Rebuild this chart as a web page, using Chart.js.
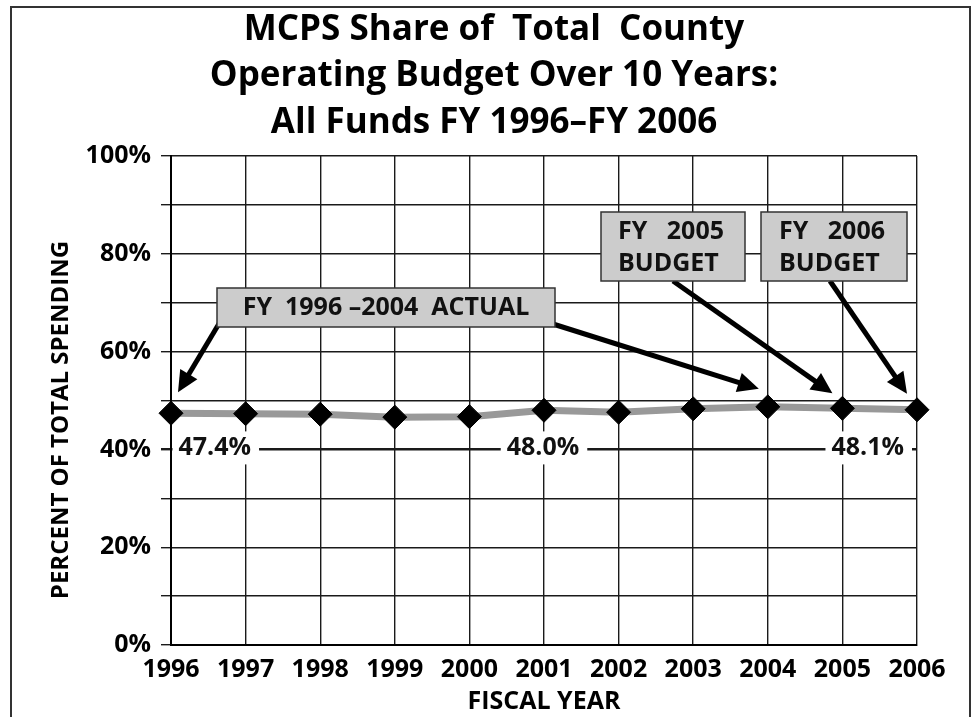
<!DOCTYPE html>
<html><head><meta charset="utf-8">
<script src="https://cdn.jsdelivr.net/npm/chart.js@4/dist/chart.umd.min.js"></script>
<style>html,body{margin:0;padding:0;background:#fff;} canvas{display:block;}</style>
</head><body>
<canvas id="c" width="976" height="717"></canvas>
<script>
// ---- data ----
const years = ['1996','1997','1998','1999','2000','2001','2002','2003','2004','2005','2006'];
const shares = [47.4, 47.3, 47.2, 46.6, 46.7, 48.0, 47.6, 48.3, 48.7, 48.4, 48.1];
const labeledTicks = [0, 20, 40, 60, 80, 100];
const titleLines = ['MCPS Share of  Total  County', 'Operating Budget Over 10 Years:', 'All Funds FY 1996\u2013FY 2006'];
const xAxisTitle = 'FISCAL YEAR';
const yAxisTitle = 'PERCENT OF TOTAL SPENDING';
const actualCallout = ['FY  1996 \u20132004  ACTUAL'];
const budget2005Callout = ['FY   2005', 'BUDGET'];
const budget2006Callout = ['FY   2006', 'BUDGET'];
const valueLabelIdx = [0, 5, 10];
const valueLabelLine = 40;
const actualArrowIdx = [0, 8];
const budget2005Idx = 9;
const budget2006Idx = 10;

const FONT = "'Open Sans', 'Noto Sans', sans-serif";

function arrow(ctx, x1, y1, x2, y2) {
  const ang = Math.atan2(y2 - y1, x2 - x1);
  const head = 21, hw = 10;
  const bx = x2 - Math.cos(ang) * head, by = y2 - Math.sin(ang) * head;
  ctx.save();
  ctx.strokeStyle = '#000'; ctx.fillStyle = '#000';
  ctx.lineWidth = 5; ctx.lineCap = 'butt';
  ctx.beginPath(); ctx.moveTo(x1, y1); ctx.lineTo(bx + Math.cos(ang) * 2, by + Math.sin(ang) * 2); ctx.stroke();
  ctx.beginPath();
  ctx.moveTo(x2, y2);
  ctx.lineTo(bx + Math.sin(ang) * hw, by - Math.cos(ang) * hw);
  ctx.lineTo(bx - Math.sin(ang) * hw, by + Math.cos(ang) * hw);
  ctx.closePath(); ctx.fill();
  ctx.restore();
}

function calloutBox(ctx, x, y, w, h, lines, align, tx, ty0, dy) {
  ctx.save();
  ctx.fillStyle = '#cccccc';
  ctx.strokeStyle = '#333';
  ctx.lineWidth = 1.5;
  ctx.fillRect(x, y, w, h);
  ctx.strokeRect(x, y, w, h);
  ctx.fillStyle = '#111';
  ctx.font = 'bold 25px ' + FONT;
  ctx.textAlign = align;
  ctx.textBaseline = 'middle';
  lines.forEach((t, i) => ctx.fillText(t, tx, ty0 + i * dy));
  ctx.restore();
}

const overlay = {
  id: 'overlay',
  beforeDraw(chart) {
    const ctx = chart.ctx;
    ctx.save();
    ctx.fillStyle = '#fff';
    ctx.fillRect(0, 0, chart.width, chart.height);
    ctx.strokeStyle = '#333';
    ctx.lineWidth = 2;
    ctx.strokeRect(11, 7, 959, 740);
    ctx.fillStyle = '#000';
    ctx.font = 'bold 35px ' + FONT;
    ctx.textAlign = 'center';
    ctx.textBaseline = 'alphabetic';
    const bases = [40, 86, 133];
    titleLines.forEach((t, i) => ctx.fillText(t, 494, bases[i]));
    ctx.translate(61, 420);
    ctx.rotate(-Math.PI / 2);
    ctx.font = 'bold 24px ' + FONT;
    ctx.textBaseline = 'middle';
    ctx.fillText(yAxisTitle, 0, 0);
    ctx.restore();
  },
  afterDraw(chart) {
    const ctx = chart.ctx;
    const xs = chart.scales.x, ys = chart.scales.y;
    const px = i => xs.getPixelForValue(i);
    const py = i => ys.getPixelForValue(shares[i]);
    // value labels on the 40% line
    ctx.save();
    ctx.font = 'bold 25px ' + FONT;
    ctx.textBaseline = 'middle';
    const ly = ys.getPixelForValue(valueLabelLine) - 2;
    valueLabelIdx.forEach((idx, k) => {
      const t = shares[idx].toFixed(1) + '%';
      const w = ctx.measureText(t).width;
      let left;
      if (k === 0) left = px(idx) + 1.5;
      else if (k === valueLabelIdx.length - 1) left = px(idx) - 6 - w - 13;
      else left = px(idx) - w / 2 - 7;
      const bw = w + 14;
      ctx.fillStyle = '#fff';
      ctx.fillRect(left, ly - 16, bw, 33);
      ctx.fillStyle = '#111';
      ctx.textAlign = 'left';
      ctx.fillText(t, left + 6, ly);
    });
    ctx.restore();
    // arrows
    arrow(ctx, 220, 322, px(actualArrowIdx[0]) + 7, py(actualArrowIdx[0]) - 21);
    arrow(ctx, 553, 324, px(actualArrowIdx[1]) - 9, py(actualArrowIdx[1]) - 18);
    arrow(ctx, 673, 281, px(budget2005Idx) - 10, py(budget2005Idx) - 15);
    arrow(ctx, 830, 281, px(budget2006Idx) - 10, py(budget2006Idx) - 16);
    // callout boxes
    calloutBox(ctx, 217, 288, 338, 39, actualCallout, 'center', 386, 308, 0);
    calloutBox(ctx, 601, 212, 144, 69, budget2005Callout, 'left', 618, 232, 32);
    calloutBox(ctx, 761, 212, 146, 69, budget2006Callout, 'left', 779, 232, 32);
  }
};

new Chart(document.getElementById('c'), {
  type: 'line',
  data: {
    labels: years,
    datasets: [{
      data: shares,
      borderColor: '#999999',
      borderWidth: 7,
      tension: 0,
      pointStyle: 'rectRot',
      pointRadius: 12,
      pointHoverRadius: 12,
      pointBackgroundColor: '#000',
      pointBorderColor: '#000',
      pointBorderWidth: 1,
      clip: false
    }]
  },
  options: {
    responsive: false,
    animation: false,
    devicePixelRatio: 1,
    layout: { padding: { top: 156, left: 0, right: 59, bottom: 0 } },
    plugins: { legend: { display: false }, title: { display: false }, tooltip: { enabled: false } },
    scales: {
      x: {
        type: 'category',
        offset: false,
        afterFit(s) { s.height = 72; },
        grid: { color: '#1a1a1a', lineWidth: 1.4, drawTicks: false },
        border: { color: '#000', width: 2 },
        ticks: { color: '#000', font: { family: FONT, size: 25, weight: 'bold' }, padding: 10, autoSkip: false, maxRotation: 0 },
        title: { display: true, text: xAxisTitle, color: '#000', font: { family: FONT, size: 25, weight: 'bold' }, padding: { top: 0, bottom: 0 } }
      },
      y: {
        min: 0, max: 100,
        afterFit(s) { s.width = 171; },
        grid: {
          color: '#1a1a1a',
          lineWidth: c => (c.tick && c.tick.value === valueLabelLine) ? 2.4 : 1.4,
          tickLength: 10
        },
        border: { color: '#000', width: 2 },
        ticks: {
          stepSize: 10,
          color: '#000',
          padding: 10,
          font: { family: FONT, size: 25, weight: 'bold' },
          callback: v => labeledTicks.includes(v) ? v + '%' : ''
        },
        title: { display: false }
      }
    }
  },
  plugins: [overlay]
});
</script>
</body></html>
